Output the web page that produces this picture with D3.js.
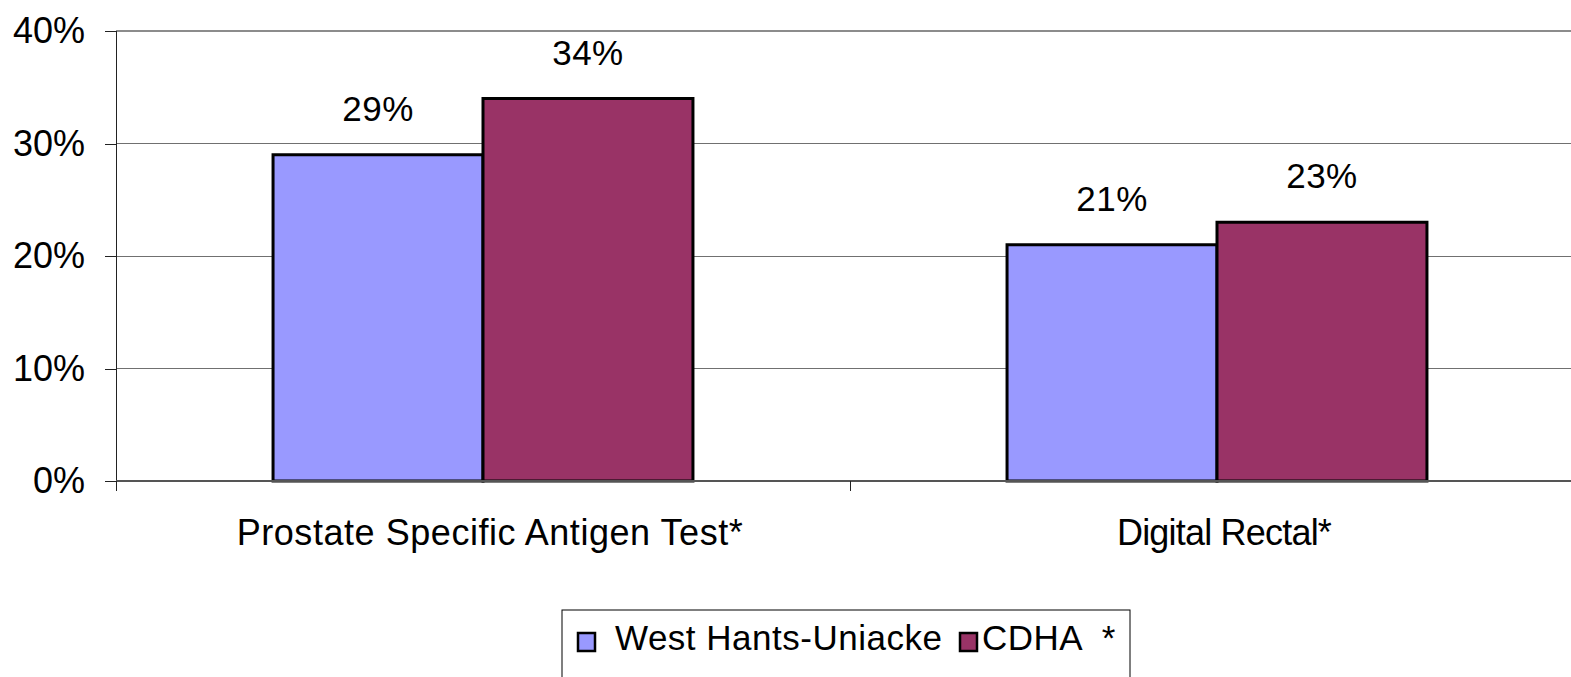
<!DOCTYPE html>
<html>
<head>
<meta charset="utf-8">
<title>Screening</title>
<script src="https://d3js.org/d3.v7.min.js"></script>
<style>
body {
	margin: 0;
	background-color: white;
	overflow: hidden;
}
svg {
	display: block;
	font-family: "Liberation Sans", Arial, sans-serif;
}
.grid line {
	shape-rendering: crispEdges;
}
.bar {
	stroke: black;
	stroke-width: 3px;
}
</style>
<script>
/* globals d3, window */
(function() {
"use strict";

const categories = ["Prostate Specific Antigen Test*", "Digital Rectal*"];
const seriesNames = ["West Hants-Uniacke", "CDHA *"];
const westHants = [29, 21];
const cdha = [34, 23];
const yTicks = [0, 10, 20, 30, 40];

const colors = ["#9999ff", "#993366"];

function main()
{
	const width = 1571, height = 677;
	const margin = {top: 31, left: 116, bottom: 196};
	const plotW = 1468;
	const plotH = height - margin.top - margin.bottom;

	const svg = d3.select("body").append("svg")
		.attr("width", width)
		.attr("height", height);

	const x0 = d3.scaleBand(categories, [margin.left, margin.left + plotW]);
	const x1 = d3.scaleBand(seriesNames, [0, x0.bandwidth()])
		.paddingInner(0)
		.paddingOuter(0.748);
	const y = d3.scaleLinear([0, 40], [margin.top + plotH, margin.top]);

	// gridlines
	svg.append("g")
		.attr("class", "grid")
		.selectAll("line")
		.data(yTicks.filter(t => t > 0))
		.join("line")
			.attr("x1", margin.left)
			.attr("x2", margin.left + plotW)
			.attr("y1", d => y(d))
			.attr("y2", d => y(d))
			.attr("stroke-width", d => d === 40 ? 2 : 1)
			.attr("stroke", d => d === 40 ? "#8c8c8c" : "#707070");

	// y axis
	const yAxis = d3.axisLeft(y)
		.tickValues(yTicks)
		.tickFormat(d => d + "%")
		.tickSize(11)
		.tickPadding(20);
	const gY = svg.append("g")
		.attr("transform", "translate(" + margin.left + ",0)")
		.call(yAxis);
	gY.select(".domain").attr("stroke", "#222").attr("shape-rendering", "crispEdges");
	gY.selectAll(".tick line").attr("stroke", "#222").attr("shape-rendering", "crispEdges");
	gY.selectAll("text")
		.attr("font-size", 36)
		.attr("font-family", "Liberation Sans, Arial, sans-serif")
		.attr("fill", "black");

	// bars
	const rows = categories.map((c, i) => ({cat: c, values: [westHants[i], cdha[i]]}));
	const groups = svg.append("g")
		.selectAll("g")
		.data(rows)
		.join("g")
			.attr("transform", d => "translate(" + x0(d.cat) + ",0)");

	groups.selectAll("rect")
		.data(d => d.values.map((v, j) => ({name: seriesNames[j], v: v, j: j})))
		.join("rect")
			.attr("class", "bar")
			.attr("x", d => x1(d.name))
			.attr("y", d => y(d.v))
			.attr("width", x1.bandwidth())
			.attr("height", d => y(0) - y(d.v))
			.attr("fill", d => colors[d.j]);

	groups.selectAll("text")
		.data(d => d.values.map((v, j) => ({name: seriesNames[j], v: v})))
		.join("text")
			.attr("x", d => x1(d.name) + x1.bandwidth() / 2)
			.attr("y", d => y(d.v) - 34)
			.attr("text-anchor", "middle")
			.attr("font-size", 35)
			.attr("letter-spacing", 0.5)
			.text(d => d.v + "%");

	// x axis
	const xAxis = d3.axisBottom(x0).tickSize(0).tickPadding(38);
	const gX = svg.append("g")
		.attr("transform", "translate(0," + y(0) + ")")
		.call(xAxis);
	gX.select(".domain").remove();
	gX.append("line")
		.attr("x1", margin.left)
		.attr("x2", margin.left + plotW)
		.attr("stroke", "#555")
		.attr("stroke-width", 2);
	gX.selectAll(".sep")
		.data([x0.range()[0], x0(categories[1])])
		.join("line")
			.attr("class", "sep")
			.attr("x1", d => d)
			.attr("x2", d => d)
			.attr("y1", 0)
			.attr("y2", 10)
			.attr("stroke", "#222")
			.attr("shape-rendering", "crispEdges");
	gX.selectAll(".tick text")
		.attr("font-size", 36)
		.attr("dx", 7)
		.attr("letter-spacing", (d, i) => i === 0 ? 0.55 : -0.8)
		.attr("font-family", "Liberation Sans, Arial, sans-serif")
		.attr("fill", "black");

	// legend
	const legend = svg.append("g").attr("transform", "translate(562,610)");
	legend.append("rect")
		.attr("width", 568)
		.attr("height", 100)
		.attr("fill", "white")
		.attr("stroke", "black")
		.attr("stroke-width", 1);
	const items = [
		{name: seriesNames[0], x: 16, tx: 53},
		{name: seriesNames[1], x: 398, tx: 420}
	];
	items.forEach((it, i) => {
		legend.append("rect")
			.attr("x", it.x)
			.attr("y", 23)
			.attr("width", 17)
			.attr("height", 18)
			.attr("fill", colors[i])
			.attr("stroke", "black")
			.attr("stroke-width", 2.5);
		legend.append("text")
			.attr("x", it.tx)
			.attr("y", 40)
			.attr("font-size", 35)
			.attr("letter-spacing", 0.5)
			.style("white-space", "pre")
			.text(it.name.replace(" *", "  *"));
	});
}
window.addEventListener("DOMContentLoaded", main);
})();
</script>
</head>
<body>
</body>
</html>
